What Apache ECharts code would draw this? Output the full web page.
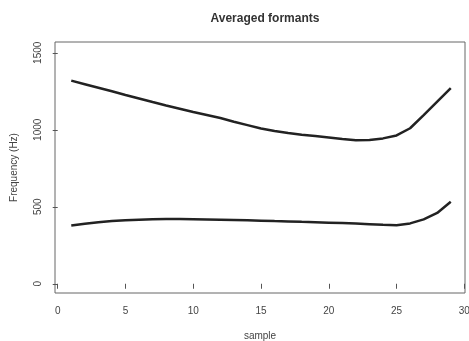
<!DOCTYPE html>
<html><head><meta charset="utf-8">
<script src="https://cdn.jsdelivr.net/npm/echarts@6/dist/echarts.min.js"></script>
<style>html,body{margin:0;padding:0;background:#fff}#c{width:469px;height:341px}</style>
</head><body><div id="c"></div>
<script>
const samples = [1,2,3,4,5,6,7,8,9,10,11,12,13,14,15,16,17,18,19,20,21,22,23,24,25,26,27,28,29];
const f2 = [1319,1296,1273,1250,1226,1203,1180,1158,1137,1116,1096,1076,1052,1030,1008,992,979,968,960,950,940,932,934,944,963,1010,1095,1183,1271];
const f1 = [378,390,400,407,412,416,419,420,420,419,418,416,414,412,410,407,405,402,400,397,394,391,387,383,380,392,418,460,532];
const xTicks = [0,5,10,15,20,25,30];
const yTicks = [0,500,1000,1500];
const font = 'Liberation Sans, Arial, sans-serif';
const chart = echarts.init(document.getElementById('c'));
const pair = (vals) => samples.map((s,i)=>[s, vals[i]]);
chart.setOption({
  animation:false,
  title:{text:'Averaged formants',left:260,top:8,textAlign:'center',
    textStyle:{fontFamily:font,fontSize:12,fontWeight:'bold',color:'#333'}},
  grid:{left:55,right:4,top:42,bottom:48,outerBoundsMode:'none',containLabel:false,show:true,borderColor:'#666',borderWidth:1,backgroundColor:'transparent'},
  xAxis:{type:'value',min:-0.2,max:30.05,
    name:'sample',nameLocation:'middle',nameGap:38,
    nameTextStyle:{fontFamily:font,fontSize:10,color:'#444'},
    axisLine:{show:false},splitLine:{show:false},
    axisTick:{show:true,inside:false,length:5,customValues:xTicks,lineStyle:{color:'#555'}},
    axisLabel:{customValues:xTicks,formatter:v=>String(v),fontFamily:font,fontSize:10,color:'#444',margin:13}},
  yAxis:{type:'value',min:-60,max:1570,
    name:'Frequency (Hz)',nameLocation:'middle',nameGap:36,
    nameTextStyle:{fontFamily:font,fontSize:10,color:'#444'},
    axisLine:{show:false},splitLine:{show:false},
    axisTick:{show:true,inside:false,length:5,customValues:yTicks,lineStyle:{color:'#555'}},
    axisLabel:{customValues:yTicks,formatter:v=>String(v),rotate:90,fontFamily:font,fontSize:10,color:'#444',margin:12}},
  series:[
    {type:'line',data:pair(f2),showSymbol:false,lineStyle:{color:'#222',width:2.5}},
    {type:'line',data:pair(f1),showSymbol:false,lineStyle:{color:'#222',width:2.5}}
  ]
});
</script></body></html>
